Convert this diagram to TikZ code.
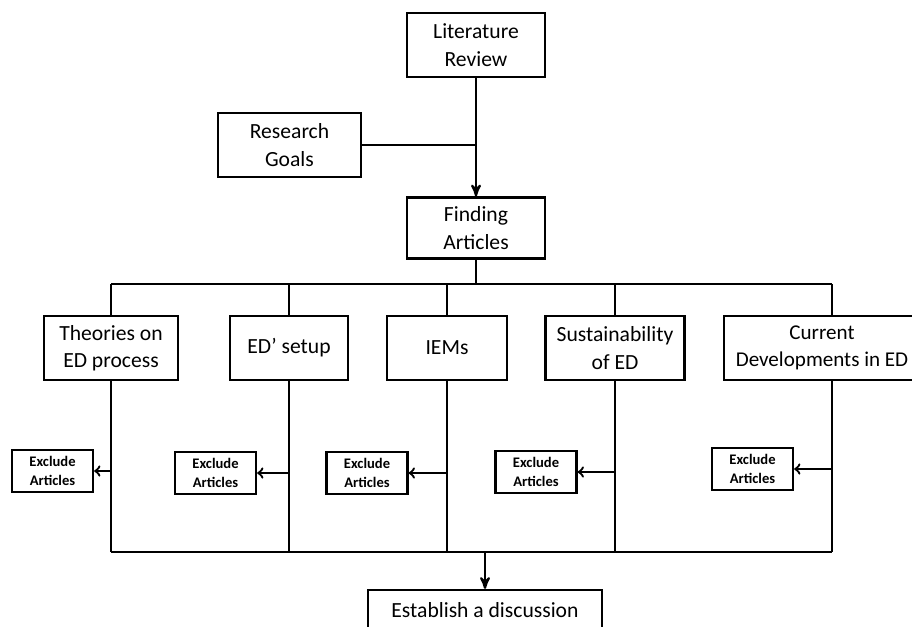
\documentclass[tikz,border=0pt]{standalone}
\usepackage{fontspec}
\setmainfont{Carlito}
\usepackage{tikz}
\usetikzlibrary{arrows,positioning}

\begin{document}
\begin{tikzpicture}[x=0.02cm,y=-0.02cm,>=stealth',line width=1.3pt,
base node/.style={rectangle,draw,align=center,inner sep=2pt,minimum height=1.28cm,
 font=\fontsize{12.3}{15.6}\selectfont},
excl node/.style={rectangle,draw,align=center,inner sep=1pt,minimum width=1.62cm,
 minimum height=0.84cm,font=\fontsize{8.3}{10.4}\selectfont\bfseries}]

\clip (0,0) rectangle (912,626);

\node[base node,minimum width=2.76cm] (lit) at (476,45) {Literature\\Review};
\node[base node,minimum width=2.86cm] (goals) at (289.5,145) {Research\\Goals};
\node[base node,minimum width=2.76cm,minimum height=1.22cm] (find) at (476,228) {Finding\\Articles};

\node[base node,minimum width=2.68cm] (theo) at (111,348) {Theories on\\ED process};
\node[base node,minimum width=2.36cm] (setup) at (289,348) {ED’ setup};
\node[base node,minimum width=2.40cm] (iem) at (447,348) {IEMs};
\node[base node,minimum width=2.78cm] (sust) at (615,348) {Sustainability\\of ED};
\node[base node,minimum width=3.92cm,font=\fontsize{12}{15.6}\selectfont] (curr) at (822,348) {Current\\Developments in ED};
\coordinate (cx) at (832,348);

\node[excl node] (ex1) at (52.5,471) {Exclude\\Articles};
\node[excl node] (ex2) at (215.5,473) {Exclude\\Articles};
\node[excl node] (ex3) at (367,473) {Exclude\\Articles};
\node[excl node] (ex4) at (536,472) {Exclude\\Articles};
\node[excl node] (ex5) at (752.5,469) {Exclude\\Articles};

\node[base node,minimum width=4.68cm,minimum height=0.8cm] (disc) at (485,610) {Establish a discussion};

\coordinate (top) at (476,284);
\coordinate (bot) at (485,552);

% top part
\draw[->] (lit) -- (find);
\draw (goals.east) -- (lit.south |- goals.east);
\draw (find) -- (top);
\draw (theo |- top) -- (cx |- top);
\draw (theo) -- (theo |- top);
\draw (setup) -- (setup |- top);
\draw (iem) -- (iem |- top);
\draw (sust) -- (sust |- top);
\draw (curr.north -| cx) -- (cx |- top);

% branches down
\draw (theo) -- (theo |- bot);
\draw (setup) -- (setup |- bot);
\draw (iem) -- (iem |- bot);
\draw (sust) -- (sust |- bot);
\draw (curr.south -| cx) -- (cx |- bot);
\draw (theo |- bot) -- (cx |- bot);

\path[-to]
(theo |- ex1) edge (ex1)
(setup |- ex2) edge (ex2)
(iem |- ex3) edge (ex3)
(sust |- ex4) edge (ex4)
(cx |- ex5) edge (ex5);

\draw[->] (bot) -- (disc);
\end{tikzpicture}
\end{document}
